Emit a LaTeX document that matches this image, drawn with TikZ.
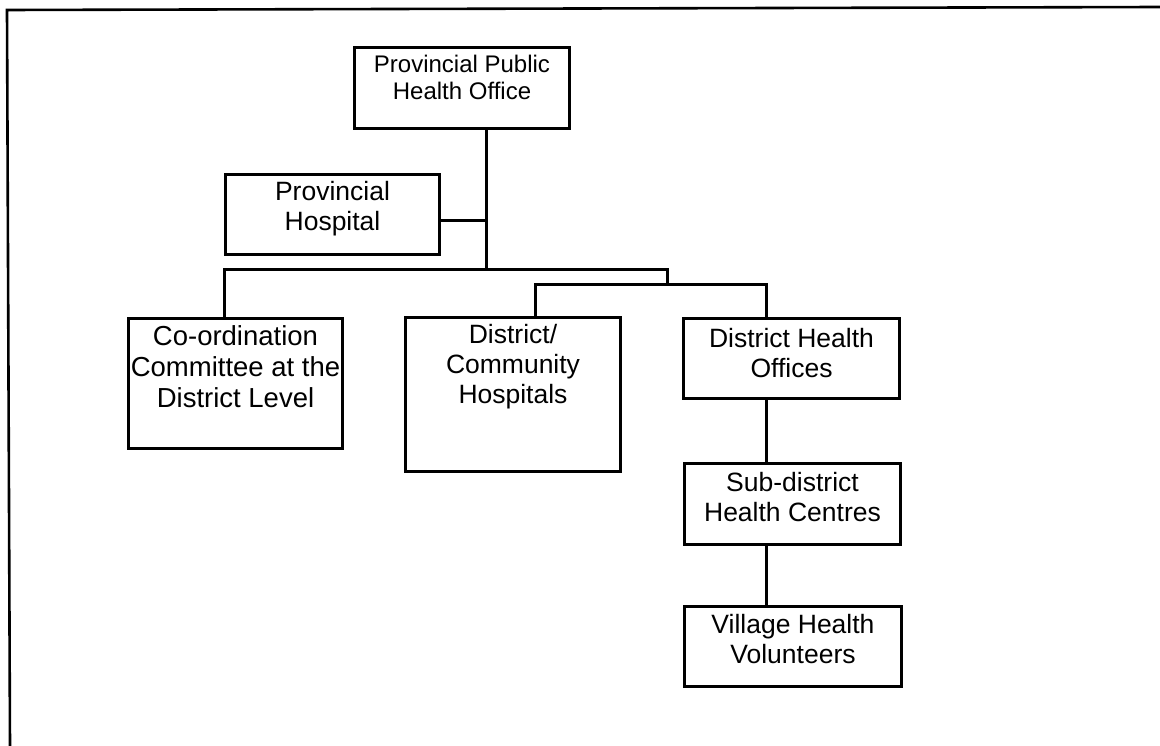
\documentclass[tikz,border=0pt]{standalone}
\usepackage{fontspec}
\setmainfont{Liberation Sans}
\begin{document}
\begin{tikzpicture}[x=1pt, y=-1pt,
  box/.style={draw, line width=3pt, inner sep=0pt, anchor=north west},
  lbl/.style={inner sep=0pt, anchor=north, align=center, font=\fontsize{26.5}{30}\selectfont},
  lblwide/.style={lbl, font=\fontsize{27.5}{31}\selectfont},
  lblsmall/.style={lbl, font=\fontsize{24}{27}\selectfont},
  link/.style={line width=3pt},
  frame/.style={line width=2.6pt}]
\useasboundingbox (0,0) rectangle (1160,746);

% outer frame (top and left edges)
\coordinate (fa) at (7,10);
\coordinate (fb) at (1160,7);
\coordinate (fc) at (10,746);
\draw[frame] (fb) -- (fa) -- (fc);

% boxes
\node[box, minimum width=215, minimum height=81] (pph) at (353,46) {};
\node[box, minimum width=214, minimum height=80] (ph) at (224,173) {};
\node[box, minimum width=214, minimum height=130] (cc) at (127,317) {};
\node[box, minimum width=215, minimum height=154] (dch) at (404,316) {};
\node[box, minimum width=216, minimum height=80] (dho) at (682,317) {};
\node[box, minimum width=216, minimum height=81] (sdhc) at (683,462) {};
\node[box, minimum width=217, minimum height=80] (vhv) at (683,605) {};

% box texts
\node[lblsmall] (pph-t) at ([yshift=-9pt]pph.north) {Provincial Public\\Health Office};
\node[lbl] (ph-t) at ([yshift=-8pt]ph.north) {Provincial\\Hospital};
\node[lblwide] (cc-t) at ([yshift=-8pt]cc.north) {Co-ordination\\Committee at the\\District Level};
\node[lbl] (dch-t) at ([yshift=-8pt]dch.north) {District/\\Community\\Hospitals};
\node[lbl] (dho-t) at ([yshift=-11pt]dho.north) {District Health\\Offices};
\node[lbl] (sdhc-t) at ([yshift=-10pt]sdhc.north) {Sub-district\\Health Centres};
\node[lbl] (vhv-t) at ([yshift=-9pt]vhv.north) {Village Health\\Volunteers};

% junction points of the connectors
\coordinate (trunk) at (486,270);
\coordinate (phj) at (486,221);
\coordinate (b1) at (224,270);
\coordinate (j2) at (667,270);
\coordinate (j3) at (667,285);
\coordinate (b2) at (535,285);
\coordinate (b3) at (766,285);

% connectors
\draw[link] (trunk |- pph.south) -- (trunk);
\draw[link] (ph.east |- phj) -- (phj);
\draw[link] (cc.north -| b1) -- (b1) -- (j2) -- (j3);
\draw[link] (dch.north -| b2) -- (b2) -- (b3) -- (dho.north -| b3);
\draw[link] (dho.south -| b3) -- (sdhc.north -| b3);
\draw[link] (sdhc.south -| b3) -- (vhv.north -| b3);
\end{tikzpicture}
\end{document}
